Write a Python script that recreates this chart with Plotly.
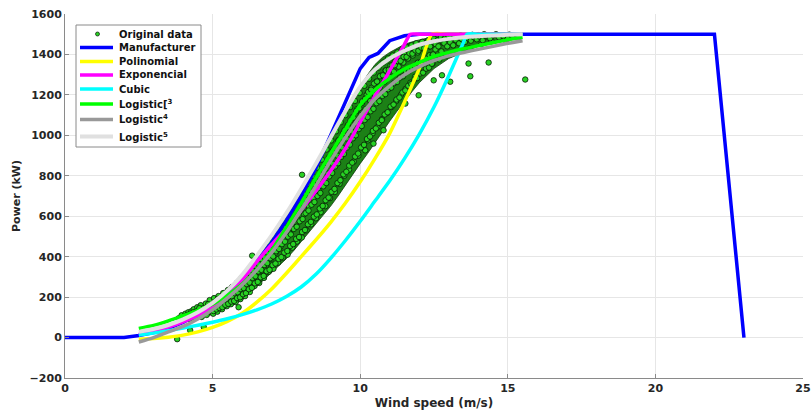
import plotly.graph_objects as go

# ---- Manufacturer power curve (table) ----
mfr_speed = [0, 2, 2.5, 3, 3.5, 4, 4.5, 5, 5.5, 6, 6.5, 7, 7.5, 8, 8.5, 9, 9.5,
             10, 10.3, 10.6, 11, 11.5, 12, 22, 23]
mfr_power = [0, 0, 10, 25, 45, 75, 115, 165, 225, 300, 380, 470, 580, 700, 840,
             1000, 1170, 1330, 1385, 1405, 1468, 1492, 1500, 1500, 0]

# ---- Fitted models (capped at rated power) ----
poly_speed = [2.5, 3, 3.5, 4, 4.5, 5, 5.5, 6, 6.5, 7, 7.5, 8, 8.5, 9, 9.5, 10,
              10.5, 11, 11.5, 12, 12.43, 13, 14, 15, 15.5]
poly_power = [-8, -5, 2, 12, 28, 50, 80, 120, 175, 240, 318, 400, 483, 570, 665,
              770, 885, 1010, 1165, 1330, 1500, 1500, 1500, 1500, 1500]

expo_speed = [2.5, 3, 3.5, 4, 4.5, 5, 5.5, 6, 6.5, 7, 7.5, 8, 8.5, 9, 9.5, 10,
              10.5, 11, 11.5, 11.7, 12, 13, 14, 15, 15.5]
expo_power = [15, 32, 52, 78, 110, 150, 205, 285, 375, 460, 540, 630, 725, 825,
              935, 1065, 1195, 1320, 1450, 1500, 1500, 1500, 1500, 1500, 1500]

cubic_speed = [2.5, 3, 3.5, 4, 4.5, 5, 5.5, 6, 6.5, 7, 7.5, 8, 8.5, 9, 9.5, 10,
               10.5, 11, 11.5, 12, 12.5, 13, 13.5, 13.62, 14, 15, 15.5]
cubic_power = [12, 22, 34, 47, 61, 76, 93, 113, 137, 166, 203, 250, 313, 392,
               480, 575, 675, 775, 885, 1005, 1140, 1295, 1460, 1500, 1500,
               1500, 1500]

logi_speed = [2.5, 3, 3.5, 4, 4.5, 5, 5.5, 6, 6.5, 7, 7.5, 8, 8.5, 9, 9.5, 10,
              10.5, 11, 11.5, 12, 12.5, 13, 13.5, 14, 14.5, 15, 15.5]
logi3_power = [45, 60, 82, 108, 135, 165, 210, 265, 335, 430, 545, 665, 790,
               910, 1030, 1150, 1225, 1282, 1328, 1360, 1390, 1410, 1428, 1443,
               1458, 1472, 1485]
logi4_power = [-22, 0, 28, 55, 92, 138, 195, 260, 335, 420, 520, 630, 750, 875,
               990, 1095, 1180, 1245, 1300, 1340, 1370, 1393, 1410, 1425, 1440,
               1455, 1468]
logi5_power = [28, 42, 62, 90, 125, 172, 232, 310, 405, 505, 615, 735, 860, 990,
               1120, 1240, 1325, 1380, 1418, 1448, 1465, 1477, 1485, 1490, 1494,
               1497, 1500]

# ---- Measured data: outline of the dense cloud ----
cloud_edge_speed = [4.0, 4.25, 4.5, 4.75, 5.0, 5.25, 5.5, 5.75, 6.0, 6.25, 6.5,
                    6.75, 7.0, 7.25, 7.5, 7.75, 8.0, 8.25, 8.5, 8.75, 9.0, 9.25,
                    9.5, 9.75, 10.0, 10.25, 10.5, 10.75, 11.0, 11.25, 11.5,
                    11.75, 12.0, 12.5, 13.0, 13.5, 14.0, 14.5, 15.0, 15.4]
cloud_edge_upper = [120, 135, 155, 170, 195, 215, 245, 275, 310, 350, 395, 440,
                    490, 545, 600, 655, 710, 770, 830, 905, 985, 1055, 1120,
                    1180, 1240, 1300, 1350, 1385, 1410, 1430, 1450, 1462, 1472,
                    1488, 1497, 1502, 1505, 1505, 1503, 1498]
cloud_edge_lower = [85, 90, 95, 105, 115, 130, 150, 165, 185, 215, 250, 285,
                    320, 355, 390, 430, 470, 515, 560, 605, 650, 700, 750, 805,
                    860, 910, 960, 1015, 1070, 1120, 1170, 1215, 1260, 1330,
                    1380, 1410, 1440, 1460, 1470, 1480]

# ---- Measured data: individual samples ----
obs_speed = [
    3.85, 3.95, 4.02, 4.08, 4.12, 4.18, 4.22, 4.28, 4.31, 4.36, 4.4, 4.44, 4.48,
    4.52, 4.55, 4.6, 4.63, 4.68, 4.72, 4.77, 4.8, 4.85, 4.9, 4.93, 4.97, 5.02,
    5.05, 5.08, 5.12, 5.16, 5.2, 5.24, 5.28, 5.32, 5.36, 5.4, 5.44, 5.48, 5.52,
    5.55, 5.58, 5.62, 5.66, 5.7, 5.74, 5.78, 5.82, 5.86, 5.9, 5.94, 5.98, 6.02,
    6.06, 6.1, 6.14, 6.18, 6.22, 6.26, 6.3, 6.34, 6.38, 6.42, 6.46, 6.5, 6.54,
    6.58, 6.62, 6.66, 6.7, 6.74, 6.78, 6.82, 6.86, 6.9, 6.94, 6.98, 7.02, 7.06,
    7.1, 7.14, 7.18, 7.22, 7.26, 7.3, 7.34, 7.38, 7.42, 7.46, 7.5, 7.54, 7.58,
    7.62, 7.66, 7.7, 7.74, 7.78, 7.82, 7.86, 7.9, 7.94, 7.98, 8.02, 8.06, 8.1,
    8.14, 8.18, 8.22, 8.26, 8.3, 8.34, 8.38, 8.42, 8.46, 8.5, 8.54, 8.58, 8.62,
    8.66, 8.7, 8.74, 8.78, 8.82, 8.86, 8.9, 8.94, 8.98, 9.02, 9.06, 9.1, 9.14,
    9.18, 9.22, 9.26, 9.3, 9.34, 9.38, 9.42, 9.46, 9.5, 9.54, 9.58, 9.62, 9.66,
    9.7, 9.74, 9.78, 9.82, 9.86, 9.9, 9.94, 9.98, 10.02, 10.06, 10.1, 10.14,
    10.18, 10.22, 10.26, 10.3, 10.34, 10.38, 10.42, 10.46, 10.5, 10.54, 10.58,
    10.62, 10.66, 10.7, 10.74, 10.78, 10.82, 10.86, 10.9, 10.94, 10.98, 11.02,
    11.06, 11.1, 11.14, 11.18, 11.22, 11.26, 11.3, 11.34, 11.38, 11.42, 11.46,
    11.5, 11.54, 11.58, 11.62, 11.66, 11.7, 11.74, 11.78, 11.82, 11.86, 11.9,
    11.95, 12.0, 12.05, 12.1, 12.15, 12.2, 12.25, 12.3, 12.35, 12.4, 12.45,
    12.5, 12.56, 12.62, 12.68, 12.74, 12.8, 12.86, 12.92, 13.0, 13.1, 13.2,
    13.3, 13.4, 13.5, 13.6, 13.7, 13.8, 13.9, 14.0, 14.1, 14.2, 14.3, 14.45,
    14.6, 14.75, 14.9, 15.05, 15.2, 15.35,
    # sparse samples away from the main band
    3.8, 4.24, 4.7, 5.88, 6.34, 8.03, 10.17, 10.45, 10.79, 11.53, 11.98, 12.49,
    12.77, 13.05, 13.67, 13.73, 14.35, 15.59,
    # inner part of the band
    4.05, 4.15, 4.25, 4.35, 4.45, 4.55, 4.65, 4.75, 4.85, 4.95,
    5.03, 5.05, 5.07, 5.13, 5.15, 5.17, 5.23, 5.25, 5.27, 5.33, 5.35, 5.37,
    5.43, 5.45, 5.47, 5.53, 5.55, 5.57, 5.63, 5.65, 5.67, 5.73, 5.75, 5.77,
    5.83, 5.85, 5.87, 5.93, 5.95, 5.97, 6.03, 6.05, 6.07, 6.13, 6.15, 6.17,
    6.23, 6.25, 6.27, 6.33, 6.35, 6.37, 6.43, 6.45, 6.47, 6.53, 6.55, 6.57,
    6.63, 6.65, 6.67, 6.73, 6.75, 6.77, 6.83, 6.85, 6.87, 6.93, 6.95, 6.97,
    7.03, 7.05, 7.07, 7.13, 7.15, 7.17, 7.23, 7.25, 7.27, 7.33, 7.35, 7.37,
    7.43, 7.45, 7.47, 7.53, 7.55, 7.57, 7.63, 7.65, 7.67, 7.73, 7.75, 7.77,
    7.83, 7.85, 7.87, 7.93, 7.95, 7.97, 8.03, 8.05, 8.07, 8.13, 8.15, 8.17,
    8.23, 8.25, 8.27, 8.33, 8.35, 8.37, 8.43, 8.45, 8.47, 8.53, 8.55, 8.57,
    8.63, 8.65, 8.67, 8.73, 8.75, 8.77, 8.83, 8.85, 8.87, 8.93, 8.95, 8.97,
    9.03, 9.05, 9.07, 9.13, 9.15, 9.17, 9.23, 9.25, 9.27, 9.33, 9.35, 9.37,
    9.43, 9.45, 9.47, 9.53, 9.55, 9.57, 9.63, 9.65, 9.67, 9.73, 9.75, 9.77,
    9.83, 9.85, 9.87, 9.93, 9.95, 9.97, 10.03, 10.05, 10.07, 10.13, 10.15,
    10.17, 10.23, 10.25, 10.27, 10.33, 10.35, 10.37, 10.43, 10.45, 10.47,
    10.53, 10.55, 10.57, 10.63, 10.65, 10.67, 10.73, 10.75, 10.77, 10.83,
    10.85, 10.87, 10.93, 10.95, 10.97, 11.03, 11.05, 11.07, 11.13, 11.15,
    11.17, 11.23, 11.25, 11.27, 11.33, 11.35, 11.37, 11.43, 11.45, 11.47,
    11.53, 11.55, 11.57, 11.63, 11.65, 11.67, 11.73, 11.75, 11.77, 11.83,
    11.85, 11.87, 11.93, 11.95, 11.97, 12.03, 12.05, 12.07, 12.13, 12.15,
    12.17, 12.23, 12.25, 12.27, 12.33, 12.35, 12.37, 12.43, 12.45, 12.47,
    12.55, 12.65, 12.75, 12.85, 12.95, 13.05, 13.15, 13.25, 13.35, 13.45,
    13.55, 13.65, 13.75, 13.85, 13.95, 14.05, 14.15, 14.25, 14.4, 14.5, 14.7,
    14.85, 15.0, 15.15, 15.3,
]
obs_power = [
    95, 110, 88, 118, 100, 125, 92, 130, 105, 140, 98, 120, 150,
    110, 135, 160, 102, 145, 125, 168, 112, 150, 185, 130, 160, 118,
    195, 140, 175, 128, 205, 160, 185, 140, 220, 175, 200, 155, 235,
    190, 215, 165, 250, 200, 230, 175, 270, 215, 250, 190, 295, 230,
    270, 205, 320, 250, 290, 225, 345, 275, 310, 255, 380, 300, 345,
    270, 405, 330, 375, 295, 430, 360, 400, 325, 465, 390, 440, 340,
    500, 420, 470, 370, 530, 450, 505, 395, 575, 480, 540, 410, 610,
    515, 570, 445, 640, 545, 610, 475, 680, 580, 640, 495, 715, 610,
    680, 530, 760, 650, 715, 560, 800, 690, 760, 590, 840, 730, 800,
    620, 880, 770, 840, 650, 930, 810, 890, 690, 975, 860, 930, 720,
    1020, 900, 975, 760, 1065, 940, 1010, 800, 1100, 985, 1050, 830, 1140,
    1020, 1090, 870, 1170, 1060, 1130, 900, 1210, 1100, 1160, 940, 1245,
    1130, 1200, 975, 1280, 1170, 1235, 1010, 1310, 1200, 1265, 1040,
    1335, 1235, 1295, 1080, 1360, 1265, 1320, 1110, 1380, 1290, 1345,
    1140, 1395, 1315, 1365, 1170, 1410, 1340, 1385, 1200, 1425, 1360,
    1400, 1230, 1435, 1380, 1415, 1260, 1445, 1395, 1430, 1290, 1455,
    1410, 1440, 1310, 1462, 1425, 1450, 1335, 1470, 1440, 1460, 1355,
    1478, 1450, 1470, 1375, 1485, 1460, 1478, 1395, 1490, 1470, 1485,
    1412, 1494, 1478, 1490, 1430, 1497, 1485, 1495, 1450, 1500, 1488, 1465,
    1500, 1490, 1472, 1498, 1488, 1482,
    # sparse samples away from the main band
    -8, 36, 52, 150, 405, 805, 926, 959, 1025, 1157, 1198, 1272,
    1297, 1265, 1355, 1292, 1360, 1276,
    # inner part of the band
    105, 112, 118, 125, 128, 145, 130, 140, 165, 145,
    131, 158, 176, 139, 162, 190, 146, 166, 196, 150, 181, 204,
    162, 186, 213, 167, 200, 228, 178, 204, 240, 181, 219, 246,
    195, 224, 262, 199, 240, 270, 214, 245, 288, 220, 265, 297,
    239, 272, 318, 246, 295, 330, 268, 303, 352, 275, 327, 362,
    298, 335, 387, 305, 359, 396, 328, 368, 421, 335, 392, 432,
    358, 401, 461, 366, 427, 472, 389, 438, 500, 398, 462, 511,
    420, 474, 542, 428, 499, 551, 453, 510, 583, 462, 537, 594,
    488, 548, 625, 497, 575, 634, 522, 586, 666, 532, 615, 680,
    560, 628, 712, 572, 657, 722, 598, 670, 757, 609, 700, 770,
    638, 715, 808, 651, 748, 826, 679, 764, 864, 692, 797, 882,
    721, 814, 922, 735, 846, 938, 764, 862, 975, 778, 893, 990,
    807, 908, 1025, 820, 939, 1040, 850, 954, 1074, 865, 985, 1088,
    895, 1000, 1121, 910, 1031, 1134, 940, 1046, 1168, 953, 1076,
    1181, 982, 1090, 1214, 994, 1119, 1226, 1022, 1131, 1256, 1034,
    1159, 1266, 1062, 1169, 1292, 1075, 1195, 1297, 1103, 1204, 1321,
    1114, 1228, 1324, 1142, 1236, 1346, 1152, 1258, 1347, 1177, 1264,
    1367, 1187, 1286, 1368, 1212, 1292, 1388, 1222, 1314, 1388, 1245,
    1318, 1406, 1254, 1337, 1404, 1276, 1340, 1420, 1283, 1359, 1418,
    1306, 1362, 1434, 1310, 1379, 1431, 1330, 1380, 1444, 1335, 1396,
    1440, 1354, 1397,
    1400, 1425, 1440, 1415, 1455, 1440, 1460, 1445, 1470, 1455,
    1475, 1462, 1480, 1468, 1485, 1475, 1488, 1470, 1492, 1480, 1495,
    1485, 1490, 1478, 1492,
]

FONT = "DejaVu Sans"
TEXT = "#262626"
fig = go.Figure()

# filled body of the measurement cloud (drawn underneath the samples)
CLOUD_FILL = "rgb(28,128,22)"
fig.add_trace(go.Scatter(
    x=cloud_edge_speed + cloud_edge_speed[::-1],
    y=cloud_edge_upper + cloud_edge_lower[::-1],
    mode="lines", fill="toself", fillcolor=CLOUD_FILL,
    line=dict(width=0.8, color="rgb(15,60,12)"),
    showlegend=False, hoverinfo="skip"))

DATA_GREEN = "rgb(40,210,35)"
DATA_EDGE = "rgb(8,25,8)"
fig.add_trace(go.Scatter(
    x=obs_speed, y=obs_power, mode="markers", name="Original data",
    showlegend=False,
    marker=dict(symbol="circle", size=5.5, color=DATA_GREEN,
                line=dict(color=DATA_EDGE, width=0.8))))

curves = [
    ("Manufacturer", mfr_speed, mfr_power, "#0000ff", 3.5, "linear"),
    ("Polinomial", poly_speed, poly_power, "#ffff00", 3.5, "spline"),
    ("Exponencial", expo_speed, expo_power, "#ff00ff", 3.5, "spline"),
    ("Cubic", cubic_speed, cubic_power, "#00ffff", 3.5, "spline"),
    ("Logistic[<sup>3</sup>", logi_speed, logi3_power, "#00ff00", 3.5, "spline"),
    ("Logistic<sup>4</sup>", logi_speed, logi4_power, "#999999", 3.5, "spline"),
    ("Logistic<sup>5</sup>", logi_speed, logi5_power, "#e0e0e0", 4, "spline"),
]
for name, xs, ys, col, w, shape in curves:
    fig.add_trace(go.Scatter(
        x=xs, y=ys, mode="lines", name=name, showlegend=False,
        line=dict(color=col, width=w, shape=shape, smoothing=0.6)))

# ---- compact legend box (pixel layout converted to paper units) ----
W, H = 811, 416
ML, MR, MT, MB = 65, 8, 14, 38
def px_x(p):
    return (p - ML) / (W - ML - MR)
def px_y(p):
    return (H - MB - p) / (H - MT - MB)

shapes = [dict(type="rect", xref="paper", yref="paper",
               x0=px_x(76), x1=px_x(201), y0=px_y(147), y1=px_y(25),
               line=dict(color="#8a8a8a", width=1), fillcolor="white",
               layer="above")]
annotations = []
row_y = [34, 47.5, 61.5, 75, 89, 104, 119.5, 136.5]
labels = ["Original data"] + [c[0] for c in curves]
for i, (label, yy) in enumerate(zip(labels, row_y)):
    if i == 0:
        shapes.append(dict(type="circle", xref="paper", yref="paper",
                           x0=px_x(95.5), x1=px_x(99.5),
                           y0=px_y(yy + 2), y1=px_y(yy - 2),
                           fillcolor=DATA_GREEN,
                           line=dict(color=DATA_EDGE, width=0.7),
                           layer="above"))
    else:
        _, _, _, col, w, _ = curves[i - 1]
        shapes.append(dict(type="line", xref="paper", yref="paper",
                           x0=px_x(80), x1=px_x(113),
                           y0=px_y(yy), y1=px_y(yy),
                           line=dict(color=col, width=w), layer="above"))
    annotations.append(dict(
        text=label, xref="paper", yref="paper", x=px_x(117), y=px_y(yy),
        xanchor="left", yanchor="middle", showarrow=False,
        font=dict(family=FONT, size=10, color="#111111", weight="bold")))

axis_common = dict(
    showgrid=True, gridcolor="#e6e6e6", gridwidth=1,
    showline=True, linecolor="#8a8a8a", linewidth=1, mirror=False,
    ticks="inside", ticklen=4, tickcolor="#8a8a8a", zeroline=False,
    tickfont=dict(family=FONT, size=11, color=TEXT, weight="bold"),
)
fig.update_xaxes(range=[0, 25], dtick=5, tick0=0,
                 title=dict(text="Wind speed (m/s)", standoff=4,
                            font=dict(family=FONT, size=12, color=TEXT,
                                      weight="bold")),
                 **axis_common)
fig.update_yaxes(range=[-200, 1600], dtick=200, tick0=0,
                 title=dict(text="Power (kW)", standoff=6,
                            font=dict(family=FONT, size=11, color=TEXT,
                                      weight="bold")),
                 **axis_common)

fig.update_layout(
    width=W, height=H,
    margin=dict(l=ML, r=MR, t=MT, b=MB, autoexpand=False),
    paper_bgcolor="white", plot_bgcolor="white",
    showlegend=False, shapes=shapes, annotations=annotations,
)

fig.write_html("out.html")
